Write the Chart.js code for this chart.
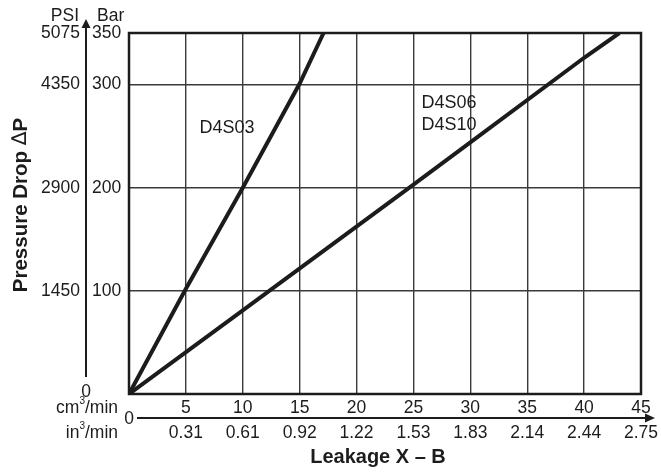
<!DOCTYPE html>
<html>
<head>
<meta charset="utf-8">
<script src="https://cdn.jsdelivr.net/npm/chart.js@4.4.1/dist/chart.umd.min.js"></script>
<style>
  html, body { margin: 0; padding: 0; background: #fff; }
  #wrap { width: 661px; height: 472px; }
</style>
</head>
<body>
<div id="wrap"><canvas id="leakChart" width="661" height="472"></canvas></div>
<script>
// leakage (cm3/min) vs pressure drop (bar)
const cmTicks = [5, 10, 15, 20, 25, 30, 35, 40, 45];
const inTicks = ['0.31', '0.61', '0.92', '1.22', '1.53', '1.83', '2.14', '2.44', '2.75'];
const barTicks = [100, 200, 300, 350];
const psiTicks = ['1450', '2900', '4350', '5075'];

const d4s03Leak = [0, 5, 10, 15, 17.1];
const d4s03Bar = [0, 102, 200, 301, 350];
const d4s06Leak = [0, 10, 25, 30, 40, 43.1];
const d4s06Bar = [0, 81, 203, 244, 326, 350];

const INK = '#1c1c1c';
const FONT = '"Liberation Sans", Arial, sans-serif';

const toPoints = (xs, ys) => xs.map((x, i) => ({ x: x, y: ys[i] }));

const decorations = {
    id: 'decorations',
    beforeDatasetsDraw(chart) {
        const { ctx, chartArea: a } = chart;
        ctx.save();
        ctx.strokeStyle = INK;
        ctx.lineWidth = 2.5;
        ctx.strokeRect(a.left, a.top, a.right - a.left, a.bottom - a.top);
        ctx.restore();
    },
    afterDraw(chart) {
        const { ctx } = chart;
        const xs = chart.scales.x;
        const ys = chart.scales.y;
        ctx.save();
        ctx.fillStyle = INK;
        ctx.strokeStyle = INK;

        // vertical axis with arrow
        const ax = 86;
        ctx.lineWidth = 2;
        ctx.beginPath();
        ctx.moveTo(ax, 377);
        ctx.lineTo(ax, 26);
        ctx.stroke();
        ctx.beginPath();
        ctx.moveTo(ax, 19);
        ctx.lineTo(ax - 4.5, 28);
        ctx.lineTo(ax + 4.5, 28);
        ctx.closePath();
        ctx.fill();

        ctx.font = '17.5px ' + FONT;
        ctx.textBaseline = 'middle';
        ctx.textAlign = 'right';
        ctx.fillText('PSI', 79, 16);
        psiTicks.forEach((t, i) => ctx.fillText(t, 80, ys.getPixelForValue(barTicks[i])));
        ctx.textAlign = 'left';
        ctx.fillText('Bar', 97, 16);
        barTicks.forEach(v => ctx.fillText(String(v), 92, ys.getPixelForValue(v)));
        ctx.textAlign = 'center';
        ctx.fillText('0', ax, 392);

        // horizontal axis with arrow
        const ay = 418;
        ctx.beginPath();
        ctx.moveTo(137, ay);
        ctx.lineTo(648, ay);
        ctx.stroke();
        ctx.beginPath();
        ctx.moveTo(655, ay);
        ctx.lineTo(645, ay - 4.5);
        ctx.lineTo(645, ay + 4.5);
        ctx.closePath();
        ctx.fill();

        ctx.fillText('0', xs.getPixelForValue(0), ay + 1);
        cmTicks.forEach((v, i) => {
            const px = xs.getPixelForValue(v);
            ctx.fillText(String(v), px, 408);
            ctx.fillText(inTicks[i], px, 433);
        });

        // unit labels with superscript 3
        const unit = (pre, post, right, y) => {
            ctx.textAlign = 'left';
            ctx.font = '17.5px ' + FONT;
            const wPre = ctx.measureText(pre).width;
            const wPost = ctx.measureText(post).width;
            ctx.font = '10px ' + FONT;
            const wSup = ctx.measureText('3').width;
            const start = right - wPre - wSup - wPost;
            ctx.font = '17.5px ' + FONT;
            ctx.fillText(pre, start, y);
            ctx.fillText(post, start + wPre + wSup, y);
            ctx.font = '10px ' + FONT;
            ctx.fillText('3', start + wPre, y - 7);
        };
        unit('cm', '/min', 118, 408);
        unit('in', '/min', 118, 433);

        // axis titles
        ctx.font = 'bold 20px ' + FONT;
        ctx.textAlign = 'center';
        ctx.fillText('Leakage X \u2013 B', 378, 457);

        // y title: bold text with a light delta
        ctx.translate(21, 205);
        ctx.rotate(-Math.PI / 2);
        ctx.textAlign = 'left';
        const boldF = 'bold 20.5px ' + FONT;
        const lightF = '20.5px "DejaVu Sans", ' + FONT;
        ctx.font = boldF;
        const w1 = ctx.measureText('Pressure Drop ').width;
        const w3 = ctx.measureText('P').width;
        ctx.font = lightF;
        const w2 = ctx.measureText('\u2206').width;
        let cx = -(w1 + w2 + w3) / 2;
        ctx.font = boldF;
        ctx.fillText('Pressure Drop ', cx, 0);
        cx += w1;
        ctx.font = lightF;
        ctx.fillText('\u2206', cx, 0);
        cx += w2;
        ctx.font = boldF;
        ctx.fillText('P', cx, 0);
        ctx.restore();

        // curve labels
        ctx.save();
        ctx.fillStyle = INK;
        ctx.font = '18px ' + FONT;
        ctx.textBaseline = 'middle';
        ctx.textAlign = 'left';
        ctx.fillText('D4S03', xs.getPixelForValue(6.2), ys.getPixelForValue(258));
        ctx.fillText('D4S06', xs.getPixelForValue(25.7), ys.getPixelForValue(282));
        ctx.fillText('D4S10', xs.getPixelForValue(25.7), ys.getPixelForValue(261));
        ctx.restore();
    }
};

const lineStyle = {
    showLine: true,
    pointRadius: 0,
    borderWidth: 4,
    borderColor: INK,
    borderCapStyle: 'butt',
    tension: 0,
};

new Chart(document.getElementById('leakChart'), {
    type: 'scatter',
    data: {
        datasets: [
            Object.assign({ label: 'D4S03', data: toPoints(d4s03Leak, d4s03Bar) }, lineStyle),
            Object.assign({ label: 'D4S06 / D4S10', data: toPoints(d4s06Leak, d4s06Bar) }, lineStyle),
        ],
    },
    options: {
        responsive: false,
        animation: false,
        layout: {
            padding: { left: 129, top: 33, right: 20, bottom: 78 },
        },
        plugins: {
            legend: { display: false },
            tooltip: { enabled: false },
        },
        scales: {
            x: {
                type: 'linear',
                min: 0,
                max: 45,
                ticks: { display: false, stepSize: 5 },
                grid: { color: '#3a3a3a', lineWidth: 1.4, drawTicks: false },
                border: { display: false },
            },
            y: {
                type: 'linear',
                min: 0,
                max: 350,
                ticks: { display: false, stepSize: 100 },
                grid: { color: '#3a3a3a', lineWidth: 1.4, drawTicks: false },
                border: { display: false },
            },
        },
    },
    plugins: [decorations],
});
</script>
</body>
</html>
